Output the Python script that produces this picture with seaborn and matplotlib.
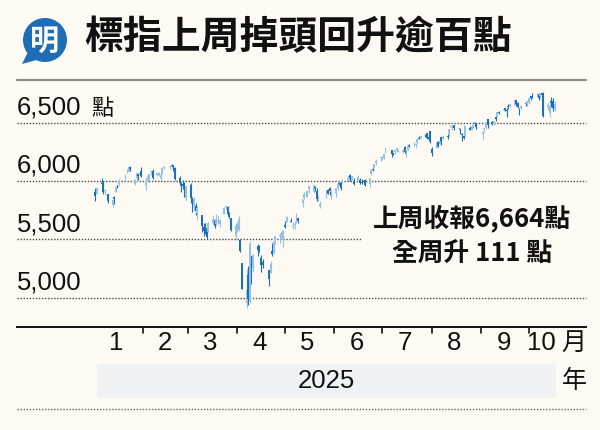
import matplotlib
matplotlib.use("Agg")
import matplotlib.pyplot as plt
import matplotlib.dates as mdates
import matplotlib.transforms as mtransforms
from matplotlib.patches import Circle, Polygon, Rectangle
from matplotlib.lines import Line2D
import numpy as np
import pandas as pd
import seaborn as sns

# ---------------- data (S&P 500 daily OHLC, 2025) ----------------
dates = [
 "01-02","01-03","01-06","01-07","01-08","01-10","01-13","01-14","01-15","01-16","01-17",
 "01-21","01-22","01-23","01-24","01-27","01-28","01-29","01-30","01-31",
 "02-03","02-04","02-05","02-06","02-07","02-10","02-11","02-12","02-13","02-14",
 "02-18","02-19","02-20","02-21","02-24","02-25","02-26","02-27","02-28",
 "03-03","03-04","03-05","03-06","03-07","03-10","03-11","03-12","03-13","03-14",
 "03-17","03-18","03-19","03-20","03-21","03-24","03-25","03-26","03-27","03-28","03-31",
 "04-01","04-02","04-03","04-04","04-07","04-08","04-09","04-10","04-11","04-14",
 "04-15","04-16","04-17","04-21","04-22","04-23","04-24","04-25","04-28","04-29","04-30",
 "05-01","05-02","05-05","05-06","05-07","05-08","05-09","05-12","05-13","05-14",
 "05-15","05-16","05-19","05-20","05-21","05-22","05-23","05-27","05-28","05-29","05-30",
 "06-02","06-03","06-04","06-05","06-06","06-09","06-10","06-11","06-12","06-13",
 "06-16","06-17","06-18","06-20","06-23","06-24","06-25","06-26","06-27","06-30",
 "07-01","07-02","07-03","07-07","07-08","07-09","07-10","07-11","07-14","07-15",
 "07-16","07-17","07-18","07-21","07-22","07-23","07-24","07-25","07-28","07-29","07-30","07-31",
 "08-01","08-04","08-05","08-06","08-07","08-08","08-11","08-12","08-13","08-14",
 "08-15","08-18","08-19","08-20","08-21","08-22","08-25","08-26","08-27","08-28","08-29",
 "09-02","09-03","09-04","09-05","09-08","09-09","09-10","09-11","09-12","09-15",
 "09-16","09-17","09-18","09-19","09-22","09-23","09-24","09-25","09-26","09-29","09-30",
 "10-01","10-02","10-03","10-06","10-07","10-08","10-09","10-10","10-13","10-14",
 "10-15","10-16","10-17",
]
opens = [
 5903,5892,5983,5994,5911,5890,5790,5860,5905,5961,5970,
 6015,6082,6077,6122,5970,6027,6058,6050,6082,
 5969,5998,6020,6073,6083,6047,6049,6025,6061,6115,
 6122,6117,6134,6115,6027,5983,5971,5982,5856,
 5969,5811,5782,5786,5726,5705,5604,5625,5594,5564,
 5635,5662,5632,5646,5631,5718,5776,5772,5696,5680,5527,
 5597,5580,5492,5292,4953,5193,4966,5353,5256,5441,
 5411,5336,5306,5232,5208,5396,5381,5490,5529,5508,5499,
 5626,5646,5655,5606,5618,5663,5679,5808,5854,5895,
 5870,5930,5902,5945,5916,5841,5781,5855,5925,5939,5903,
 5897,5939,5979,5985,5987,6004,6009,6050,6009,6000,
 6005,6012,5985,6004,5970,6058,6105,6112,6151,6193,
 6187,6194,6247,6263,6238,6245,6268,6256,6250,6295,
 6257,6267,6308,6306,6307,6326,6368,6371,6397,6410,6375,6427,
 6271,6286,6337,6320,6375,6359,6389,6397,6466,6455,
 6478,6445,6447,6406,6386,6387,6458,6441,6457,6486,6493,
 6401,6448,6456,6529,6505,6499,6546,6548,6589,6607,
 6625,6608,6646,6646,6654,6693,6670,6610,6625,6662,6661,
 6665,6731,6722,6735,6747,6732,6753,6735,6630,6582,
 6686,6689,6613,
]
highs = [
 5935,5949,6022,6001,5927,5890,5837,5871,5960,5965,6014,
 6052,6100,6119,6128,6018,6074,6063,6087,6121,
 6022,6042,6062,6084,6101,6073,6076,6064,6116,6128,
 6130,6147,6135,6118,6044,5993,6009,5993,5960,
 5986,5865,5860,5812,5783,5706,5636,5642,5597,5645,
 5704,5670,5716,5711,5670,5776,5786,5783,5737,5686,5615,
 5651,5695,5500,5292,5246,5268,5481,5353,5369,5460,
 5450,5367,5328,5232,5309,5469,5485,5528,5554,5572,5581,
 5658,5700,5683,5649,5654,5721,5683,5845,5907,5906,
 5925,5959,5969,5954,5939,5878,5830,5922,5929,5944,5923,
 5937,5981,5991,5999,6017,6021,6043,6059,6045,6027,
 6051,6024,6019,6018,6028,6101,6108,6146,6188,6215,
 6211,6228,6285,6263,6243,6265,6290,6270,6272,6302,
 6269,6299,6315,6336,6317,6359,6381,6390,6402,6410,6402,6428,
 6288,6330,6346,6350,6379,6395,6407,6446,6480,6474,
 6482,6456,6456,6408,6394,6482,6467,6467,6486,6508,6494,
 6417,6453,6502,6533,6511,6513,6555,6592,6600,6619,
 6627,6624,6656,6672,6695,6697,6676,6625,6651,6679,6689,
 6717,6731,6751,6750,6752,6754,6756,6764,6671,6677,
 6724,6709,6685,
]
lows = [
 5829,5888,5960,5890,5875,5809,5773,5805,5905,5936,5958,
 6001,6072,6075,6088,5962,5995,6012,6041,6030,
 5924,5990,6007,6051,6019,6045,6043,6004,6060,6104,
 6100,6111,6088,6009,5977,5909,5933,5858,5837,
 5810,5732,5742,5711,5667,5565,5529,5546,5505,5564,
 5628,5598,5621,5633,5603,5718,5758,5695,5679,5573,5489,
 5558,5572,5390,5069,4910,4935,4950,5115,5220,5358,
 5387,5221,5255,5102,5208,5357,5372,5456,5469,5506,5434,
 5597,5646,5644,5591,5587,5641,5640,5775,5846,5868,
 5866,5900,5895,5915,5830,5826,5767,5855,5886,5877,5843,
 5862,5925,5967,5921,5978,5994,6000,6003,6004,5964,
 6004,5977,5971,5953,5944,6055,6081,6107,6133,6172,
 6177,6186,6240,6201,6220,6228,6250,6245,6243,6242,
 6202,6262,6287,6303,6281,6313,6360,6363,6377,6358,6346,6327,
 6212,6286,6289,6316,6310,6357,6362,6385,6451,6441,
 6441,6436,6400,6343,6361,6385,6438,6439,6452,6468,6444,
 6360,6417,6445,6451,6477,6481,6512,6545,6577,6601,
 6598,6552,6618,6632,6654,6642,6623,6569,6613,6643,6641,
 6657,6697,6707,6722,6698,6713,6719,6550,6611,6551,
 6630,6604,6599,
]
closes = [
 5869,5942,5975,5909,5918,5827,5836,5843,5950,5937,5997,
 6049,6086,6119,6101,6012,6068,6039,6071,6041,
 5995,6038,6061,6084,6026,6066,6069,6052,6115,6115,
 6130,6144,6118,6013,5983,5955,5956,5862,5955,
 5850,5778,5843,5739,5770,5615,5572,5599,5522,5639,
 5675,5615,5675,5663,5668,5768,5777,5712,5693,5581,5612,
 5633,5671,5397,5074,5062,4983,5457,5268,5363,5406,
 5397,5276,5283,5158,5288,5376,5485,5525,5529,5561,5569,
 5604,5687,5650,5607,5631,5664,5660,5844,5887,5893,
 5917,5958,5964,5940,5845,5842,5803,5922,5889,5912,5912,
 5936,5970,5971,5939,6000,6006,6039,6022,6045,5977,
 6033,5983,5981,5968,6025,6092,6092,6141,6173,6205,
 6198,6227,6279,6230,6226,6263,6280,6260,6269,6244,
 6264,6297,6297,6306,6310,6359,6363,6389,6390,6371,6363,6339,
 6238,6330,6299,6345,6340,6389,6373,6446,6467,6469,
 6450,6449,6411,6396,6370,6467,6439,6466,6481,6502,6460,
 6416,6448,6502,6482,6495,6513,6532,6587,6584,6615,
 6607,6600,6632,6664,6694,6657,6638,6605,6644,6661,6688,
 6711,6715,6716,6740,6715,6754,6735,6553,6655,6644,
 6671,6629,6664,
]
grid_values = [5000, 5500, 6000, 6500]
y_labels = ["5,000", "5,500", "6,000", "6,500"]
month_labels = ["1", "2", "3", "4", "5", "6", "7", "8", "9", "10"]
title = "標指上周掉頭回升逾百點"
note_lines = ["上周收報6,664點", "全周升 111 點"]
year_label = "2025"

df = pd.DataFrame({
    "date": pd.to_datetime(["2025-" + d for d in dates]),
    "open": opens, "high": highs, "low": lows, "close": closes,
})
df["up"] = df["close"] >= df["open"]

# ---------------- style ----------------
sns.set_theme(style="white")
BG = "#fdfaf3"
plt.rcParams["font.family"] = ["Liberation Sans", "Noto Sans CJK TC", "DejaVu Sans"]
CJK = ["Noto Sans CJK TC", "DejaVu Sans"]
DOWN = "#1d6fba"
UP = "#93c2e6"

W, H = 600, 430
fig = plt.figure(figsize=(6, 4.3), dpi=100, facecolor=BG)

def fx(x):
    return x / W

def fy(y):
    return 1 - y / H

# main axes: x 17..586 px, y 88..327 px
ax_l, ax_r, ax_t, ax_b = 17, 586, 88, 327
ax = fig.add_axes([fx(ax_l), fy(ax_b), fx(ax_r - ax_l), (ax_b - ax_t) / H])
ax.set_facecolor(BG)
ax.patch.set_alpha(0)

x0 = mdates.date2num(pd.Timestamp("2024-11-14"))
x1 = mdates.date2num(pd.Timestamp("2025-11-05")) + 0.7
ax.set_xlim(x0, x1)
ax.set_ylim(4747, 6797)

for s in ["left", "right", "top"]:
    ax.spines[s].set_visible(False)
ax.spines["bottom"].set_color("#111111")
ax.spines["bottom"].set_linewidth(1.4)
ax.set_yticks([])
ax.set_xticks([])

# gridlines (dotted)
blend = mtransforms.blended_transform_factory(ax.transAxes, ax.transData)
for v in grid_values:
    xend = 0.606 if v == 5500 else 1.0
    ax.plot([0, xend], [v, v], transform=blend, color="#4a4a4a", lw=1.0,
            ls=(0, (1, 1.2)), zorder=1, clip_on=False)

# y labels
for v, lab in zip(grid_values, y_labels):
    ax.text(0.0, v + 68, lab, transform=blend, ha="left", va="baseline",
            fontsize=18.5, color="#111111")
ax.text((91 - ax_l) / (ax_r - ax_l), 6500 + 68, "點",
        transform=blend, ha="left", va="baseline", fontsize=16,
        color="#111111", family=CJK)

# candlesticks
dn = mdates.date2num(df["date"])
colors = np.where(df["up"], UP, DOWN)
ax.vlines(dn, df["low"], df["high"], colors=colors, lw=0.8, zorder=3)
body_lo = np.minimum(df["open"], df["close"])
body_h = np.maximum(np.abs(df["close"] - df["open"]), 6)
ax.bar(dn, body_h, bottom=body_lo, width=1.2, color=colors, lw=0, zorder=4)

# month ticks and labels
blend_x = mtransforms.blended_transform_factory(ax.transData, ax.transAxes)
tick_len = 6 / (ax_b - ax_t)
for m in range(2, 11):
    t = mdates.date2num(pd.Timestamp(f"2025-{m:02d}-01"))
    ax.plot([t, t], [0, -tick_len], transform=blend_x, color="#111111",
            lw=1.2, clip_on=False)
lab_y = -(343.5 - ax_b) / (ax_b - ax_t)
for i, lab in enumerate(month_labels):
    m = i + 1
    t = mdates.date2num(pd.Timestamp(f"2025-{m:02d}-15"))
    if m == 10:
        t = mdates.date2num(pd.Timestamp("2025-10-09"))
    ax.text(t, lab_y, lab, transform=blend_x, ha="center", va="center",
            fontsize=18.5, color="#111111")
fig.text(fx(574), fy(343), "月", ha="center", va="center", fontsize=18,
         color="#111111", family=CJK)

# year band
fig.patches.append(Rectangle((fx(97), fy(398)), fx(556 - 97), (398 - 364) / H,
                             transform=fig.transFigure, facecolor="#f0f1f2",
                             edgecolor="none", zorder=0))
fig.text(fx(326), fy(381), year_label, ha="center", va="center", fontsize=18.5,
         color="#111111")
fig.text(fx(574), fy(381), "年", ha="center", va="center", fontsize=18,
         color="#111111", family=CJK)

# bottom dotted line
fig.lines.append(Line2D([fx(17), fx(586)], [fy(409), fy(409)],
                        transform=fig.transFigure, color="#666666", lw=1.0,
                        ls=(0, (1, 1.2))))

# annotation
fig.text(fx(472), fy(218), note_lines[0], ha="center", va="center",
         fontsize=18.5, weight="bold", color="#111111", family=CJK)
fig.text(fx(472), fy(254), note_lines[1], ha="center", va="center",
         fontsize=18.5, weight="bold", color="#111111", family=CJK)

# title
fig.text(fx(84), fy(38), title, ha="left", va="center", fontsize=28,
         weight="heavy", color="#111111", family=CJK)
fig.lines.append(Line2D([fx(17), fx(586)], [fy(80), fy(80)],
                        transform=fig.transFigure, color="#8c8c8c", lw=1.6))

# logo
lax = fig.add_axes([fx(15), fy(70), fx(60), 60 / H])
lax.set_xlim(15, 75)
lax.set_ylim(70, 10)
lax.axis("off")
lax.add_patch(Circle((45, 40), 22, facecolor="#1f6db4", edgecolor="none"))
lax.add_patch(Polygon([(28, 52), (22, 64), (40, 59)], closed=True,
                      facecolor="#1f6db4", edgecolor="none"))
lax.text(45, 41, "明", ha="center", va="center", fontsize=21, weight="bold",
         color="white", family=CJK)

fig.savefig("out.png", dpi=100, facecolor=BG)
